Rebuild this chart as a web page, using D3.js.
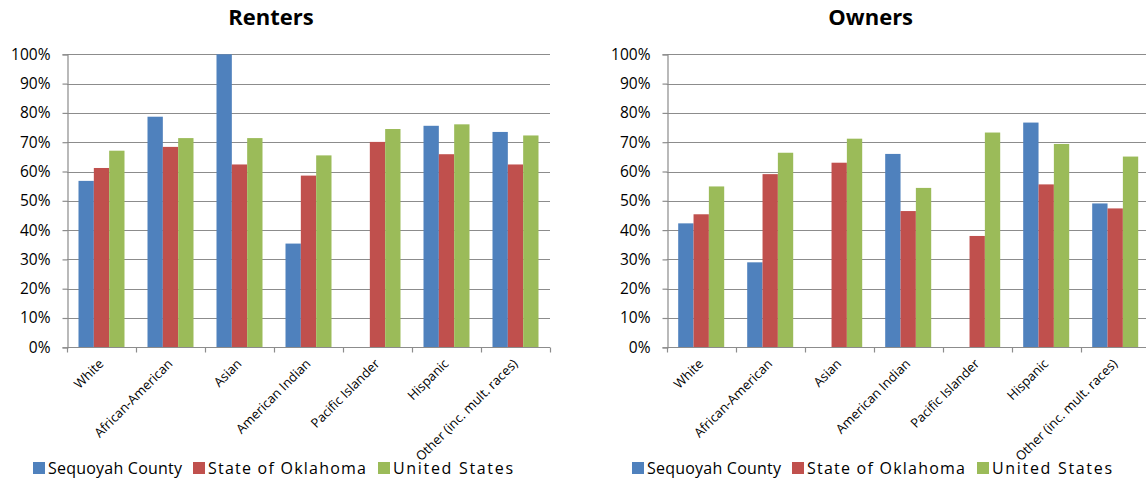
<!DOCTYPE html>
<html>
<head>
<meta charset="utf-8">
<script src="https://cdn.jsdelivr.net/npm/d3@7"></script>
<style>
  html, body { margin: 0; padding: 0; background: #fff; }
  svg { display: block; font-family: "Open Sans", "Noto Sans", sans-serif; }
</style>
</head>
<body>
<svg id="chart" width="1146" height="478"></svg>
<script>
// Housing tenure rates by race / ethnicity
const categories = ["White", "African-American", "Asian", "American Indian",
  "Pacific Islander", "Hispanic", "Other (inc. mult. races)"];
const seriesNames = ["Sequoyah County", "State of Oklahoma", "United States"];
const seriesColors = ["#4F81BD", "#C0504D", "#9BBB59"];
const yTicks = [0, 10, 20, 30, 40, 50, 60, 70, 80, 90, 100];

// Renters (percent)
const rentersSequoyah = [56.8, 78.7, 100, 35.4, 0, 75.6, 73.5];
const rentersOklahoma = [61.2, 68.4, 62.4, 58.6, 70.1, 65.9, 62.4];
const rentersUS       = [67.1, 71.4, 71.4, 65.5, 74.5, 76.1, 72.3];

// Owners (percent)
const ownersSequoyah = [42.3, 29.0, 0, 66.0, 0, 76.7, 49.1];
const ownersOklahoma = [45.4, 59.1, 63.0, 46.5, 38.0, 55.6, 47.4];
const ownersUS       = [54.9, 66.4, 71.2, 54.4, 73.3, 69.4, 65.1];

const svg = d3.select("#chart");

function drawPanel(opts) {
  const { title, series, left, top, width, height, legendX } = opts;
  const g = svg.append("g");

  const x0 = d3.scaleBand().domain(categories).range([left, left + width]);
  // 150% gap width: each bar is 1/4.5 of a category slot
  const barW = x0.bandwidth() / 4.5;
  const groupOffset = barW * 0.75;
  const y = d3.scaleLinear().domain([0, 100]).range([top + height, top]);

  // gridlines
  g.append("g").selectAll("line").data(yTicks.filter(d => d > 0)).join("line")
    .attr("x1", left).attr("x2", left + width)
    .attr("y1", d => Math.round(y(d)) + 0.5).attr("y2", d => Math.round(y(d)) + 0.5)
    .attr("stroke", "#8c8c8c").attr("stroke-width", 1.2);

  // bars
  series.forEach((vals, si) => {
    g.append("g").selectAll("rect").data(vals).join("rect")
      .attr("x", (d, i) => x0(categories[i]) + groupOffset + si * barW)
      .attr("y", d => y(d))
      .attr("width", barW)
      .attr("height", d => y(0) - y(d))
      .attr("fill", seriesColors[si]);
  });

  // y axis
  const yAxis = d3.axisLeft(y).tickValues(yTicks).tickSize(5).tickPadding(12)
    .tickFormat(d => d + "%");
  const ya = g.append("g").attr("transform", `translate(${Math.round(left) + 0.5},0)`).call(yAxis);
  ya.select(".domain").attr("stroke", "#8c8c8c").attr("stroke-width", 1.2);
  ya.selectAll(".tick line").attr("stroke", "#8c8c8c").attr("stroke-width", 1.2);
  ya.selectAll(".tick text").attr("font-size", 15.5).attr("fill", "#000")
    .attr("font-family", "'Open Sans', sans-serif");

  // x axis: baseline with ticks at category boundaries
  const base = Math.round(y(0)) + 0.5;
  g.append("line").attr("x1", left).attr("x2", left + width)
    .attr("y1", base).attr("y2", base).attr("stroke", "#8c8c8c").attr("stroke-width", 1.2);
  const bounds = categories.map(c => x0(c)).concat([left + width]);
  g.append("g").selectAll("line").data(bounds).join("line")
    .attr("x1", d => Math.round(d) + 0.5).attr("x2", d => Math.round(d) + 0.5)
    .attr("y1", base).attr("y2", base + 5)
    .attr("stroke", "#8c8c8c").attr("stroke-width", 1.2);

  // category labels rotated 45°
  g.append("g").selectAll("text").data(categories).join("text")
    .attr("transform", d => `translate(${x0(d) + x0.bandwidth() / 2 + 3},${base + 17}) rotate(-45)`)
    .attr("text-anchor", "end")
    .attr("font-size", 13)
    .attr("fill", "#000")
    .text(d => d);

  // title
  g.append("text").attr("x", left + 204).attr("y", 25)
    .attr("text-anchor", "middle").attr("font-size", 22).attr("font-weight", "bold")
    .text(title);

  // legend
  const legendSpacing = [0, 160, 345];
  const legendTextWidth = [134, 158, 120];
  const lg = g.append("g").attr("transform", `translate(${legendX},462)`);
  seriesNames.forEach((name, i) => {
    lg.append("rect").attr("x", legendSpacing[i]).attr("y", 0).attr("width", 12).attr("height", 12)
      .attr("fill", seriesColors[i]);
    lg.append("text").attr("x", legendSpacing[i] + 15).attr("y", 12)
      .attr("font-size", 16).attr("fill", "#000")
      .attr("textLength", legendTextWidth[i]).attr("lengthAdjust", "spacing")
      .text(name);
  });
}

drawPanel({
  title: "Renters",
  series: [rentersSequoyah, rentersOklahoma, rentersUS],
  left: 67, top: 54.3, width: 483, height: 293, legendX: 33
});

drawPanel({
  title: "Owners",
  series: [ownersSequoyah, ownersOklahoma, ownersUS],
  left: 666.7, top: 54.3, width: 483, height: 293, legendX: 632
});
</script>
</body>
</html>
